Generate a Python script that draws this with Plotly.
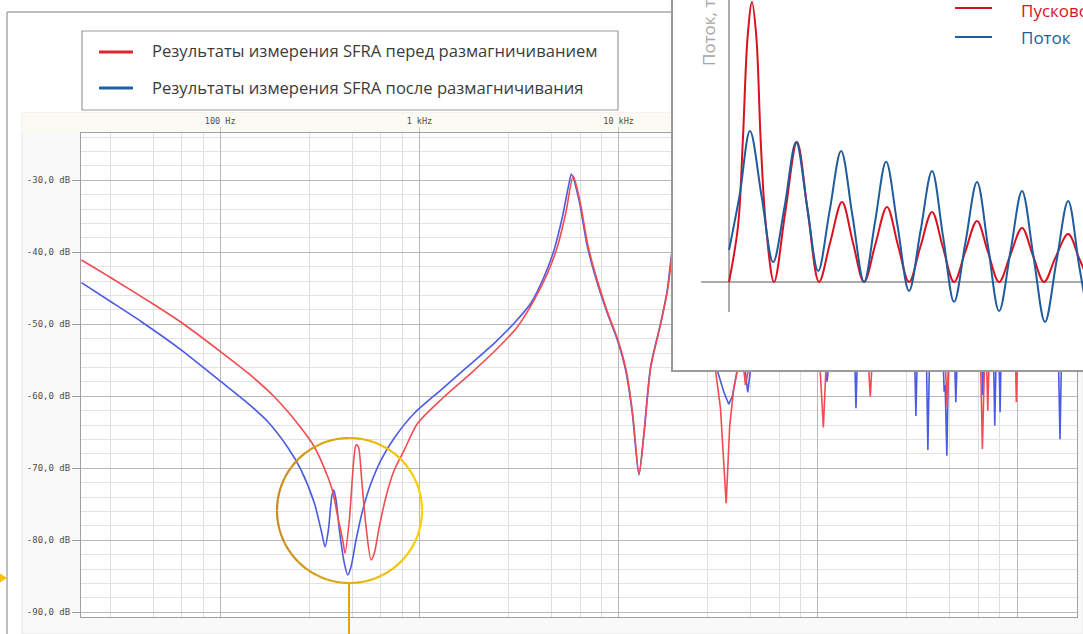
import math
import plotly.graph_objects as go

W, H = 1083, 634

# ---------------- SFRA sweep: before demagnetisation ----------------
before_freq_hz = [
    20.1, 28.4, 46.9, 63.8, 101, 137.7, 187.2, 254.7,
    297, 346.6, 367.2, 389, 412, 423.2, 444.7, 468,
    480.5, 493.4, 513.2, 539.4, 571.4, 593.5, 628.8, 679.3,
    747.6, 839, 979.5, 1331, 1812, 2466, 3106, 3762,
    4391, 4928, 5424, 5914, 6376, 7033, 7893, 8838,
    9920, 10904, 11755, 12670, 13423, 14520, 16293, 17606,
    18650, 21420, 25760, 28920, 30640, 32460, 34660, 36130,
    37840, 39490, 41110, 43300, 45350, 51500, 72800, 102100,
    106600, 110300, 122400, 179100, 183300, 187600, 230900, 435700,
    445800, 456100, 548700, 656200, 670000, 687200, 703200, 713000,
    724000, 870800, 983000, 992000, 1005800, 1304000, 1999000,
]
before_db = [
    -41.07, -43.57, -47.32, -49.75, -53.85, -56.76, -60.10, -64.40,
    -67.04, -71.17, -73.25, -76.72, -79.96, -81.80, -77.18, -68.85,
    -66.76, -67.00, -71.63, -78.11, -82.74, -81.80, -78.11, -73.94,
    -70.24, -67.46, -63.75, -60.06, -56.81, -53.33, -50.33, -46.63,
    -42.92, -39.22, -34.58, -29.40, -32.74, -39.22, -44.31, -48.47,
    -52.18, -56.35, -62.36, -70.79, -65.14, -55.89, -49.86, -45.24,
    -39.68, -32.30, -47.30, -52.90, -56.35, -61.67, -74.86, -63.99,
    -58.89, -56.35, -52.50, -58.43, -55.65, -49.40, -46.60, -55.00,
    -64.33, -55.00, -48.00, -55.00, -60.06, -55.00, -49.40, -55.00,
    -61.44, -55.00, -50.80, -55.00, -67.32, -55.00, -55.00, -62.00,
    -55.00, -49.40, -55.00, -60.83, -55.00, -50.80, -49.40,
]

# ---------------- SFRA sweep: after demagnetisation ----------------
after_freq_hz = [
    20.1, 28.4, 40.2, 63.8, 101, 137.7, 173.4, 218.4,
    254.7, 297, 320.8, 336, 349.1, 363, 371.5, 381.5,
    396.3, 419.8, 436.6, 453.5, 480.5, 519.2, 571.4, 641.2,
    747.6, 941.7, 1281, 1744, 2371, 2987, 3622, 4223,
    4740, 5221, 5636, 5794, 6324, 6968, 7821, 8777,
    9851, 10840, 11715, 12640, 13392, 14470, 16237, 17545,
    18587, 21420, 25760, 28920, 31240, 33710, 35720, 37270,
    39360, 41370, 43060, 44470, 45880, 54560, 80000, 107200,
    111200, 114200, 129700, 153300, 155400, 157800, 217900, 306400,
    310700, 315200, 334000, 351000, 356800, 363400, 392600, 425800,
    430700, 435700, 444300, 452500, 486100, 492900, 500300, 581400,
    667700, 673100, 679300, 762500, 773100, 784800, 798600, 812500,
    821900, 831400, 1162000, 1614000, 1643000, 1671000, 1999000,
]
after_db = [
    -44.22, -46.90, -49.64, -53.57, -57.97, -60.97, -63.53, -67.10,
    -70.24, -74.86, -78.57, -80.89, -78.57, -73.94, -73.01, -74.40,
    -78.57, -83.19, -84.82, -83.67, -79.96, -75.79, -72.08, -68.85,
    -65.80, -62.36, -59.13, -55.89, -52.64, -49.86, -47.08, -43.39,
    -39.68, -35.06, -30.42, -29.13, -32.74, -39.22, -44.31, -48.47,
    -52.18, -56.35, -62.36, -70.93, -65.14, -55.89, -49.86, -45.24,
    -39.68, -32.04, -46.63, -52.18, -56.35, -59.36, -61.11, -59.96,
    -56.35, -52.00, -56.35, -59.44, -56.35, -50.10, -47.00, -55.00,
    -57.97, -55.00, -50.80, -55.00, -61.67, -55.00, -50.10, -55.00,
    -62.74, -55.00, -52.90, -55.00, -67.46, -55.00, -52.90, -55.00,
    -59.36, -58.43, -68.25, -55.00, -55.00, -60.83, -55.00, -51.50,
    -55.00, -59.82, -55.00, -55.00, -64.08, -55.00, -54.30, -55.00,
    -62.22, -55.00, -50.80, -55.00, -65.97, -55.00, -51.50,
]

# ---------------- inset: inrush current and flux (time in ms, p.u.) ----------------
inrush_t_ms = [0, 4, 6.1, 8.3, 10.2, 12.1, 14.1, 16.4, 20, 25, 30.2, 35, 40,
               45, 50.2, 55, 60, 65, 70.2, 75, 80, 85, 90.2, 95, 100,
               105, 110.2, 115, 120, 125, 130.2, 135, 140, 145, 150.7, 155.5, 160]
inrush_pu = [0, 0.2, 0.5, 0.88, 1.0, 0.88, 0.5, 0.2, 0, 0.25, 0.5, 0.25, 0,
             0.143, 0.286, 0.143, 0, 0.134, 0.268, 0.134, 0, 0.125, 0.25, 0.125, 0,
             0.109, 0.218, 0.109, 0, 0.096, 0.193, 0.096, 0, 0.086, 0.171, 0.086, 0]

flux_t_ms = [0, 4.7, 9.3, 14.5, 19.6, 24.7, 29.8, 34.7, 39.6, 44.7, 49.8, 54.9,
             60, 64.9, 69.8, 74.9, 80, 85.1, 90.2, 95.1, 100, 105.1, 110.2, 115.1,
             120, 125.1, 130.2, 135.3, 140.4, 145.5, 150.7, 155.6, 160.6]
flux_pu = [0.114, 0.31, 0.539, 0.305, 0.071, 0.27, 0.5, 0.27, 0.039, 0.254, 0.468, 0.234,
           0.0, 0.215, 0.429, 0.2, -0.032, 0.182, 0.396, 0.163, -0.071, 0.143, 0.357, 0.127,
           -0.104, 0.11, 0.325, 0.091, -0.143, 0.073, 0.289, 0.057, -0.175]

# ---------------- axis labels and texts ----------------
y_tick_values = [-90, -80, -70, -60, -50, -40, -30]
y_tick_labels = ["-90,0 dB", "-80,0 dB", "-70,0 dB", "-60,0 dB", "-50,0 dB", "-40,0 dB", "-30,0 dB"]
x_tick_values = [100, 1000, 10000, 100000, 1000000]
x_tick_labels = ["100 Hz", "1 kHz", "10 kHz", "100 kHz", "1 MHz"]

legend_labels = ["Результаты измерения SFRA перед размагничиванием",
                 "Результаты измерения SFRA после размагничивания"]
inset_labels = ["Пусковой ток", "Поток"]
inset_y_title = "Поток, ток"

# colours
RED = "#f24c50"
BLUE = "#4b5be3"
LEG_RED = "#e3262d"
LEG_BLUE = "#2160a8"
INSET_RED = "#d8121f"
INSET_BLUE = "#1f5c9e"


def px(x):
    return x / W


def py(y):
    return 1 - y / H


# grid helpers: minor lines split every decade into five linear steps
x_minor = [d * m for d in [10, 100, 1000, 10000, 100000, 1000000]
           for m in (2.8, 4.6, 6.4, 8.2) if 20 <= d * m <= 2e6]
y_minor = [v for v in range(-90, -22, 2) if v % 10 != 0]

# the smooth low/mid-frequency part is drawn with a spline, the spiky
# high-frequency part with straight segments (split at ~18.6 kHz)
SPLIT_HZ = 18600


def split(freq, vals):
    k = next(i for i, f in enumerate(freq) if f >= SPLIT_HZ)
    return (freq[:k + 1], vals[:k + 1]), (freq[k:], vals[k:])


fig = go.Figure()

for freq, vals, col in ((after_freq_hz, after_db, BLUE), (before_freq_hz, before_db, RED)):
    (f1, v1), (f2, v2) = split(freq, vals)
    fig.add_trace(go.Scatter(x=f1, y=v1, mode="lines",
                             line=dict(color=col, width=1.6, shape="spline", smoothing=0.7),
                             xaxis="x", yaxis="y", hoverinfo="skip"))
    fig.add_trace(go.Scatter(x=f2, y=v2, mode="lines",
                             line=dict(color=col, width=1.6),
                             xaxis="x", yaxis="y", hoverinfo="skip"))

fig.add_trace(go.Scatter(x=inrush_t_ms, y=inrush_pu, mode="lines",
                         line=dict(color=INSET_RED, width=2, shape="spline", smoothing=1),
                         xaxis="x2", yaxis="y2", hoverinfo="skip"))
fig.add_trace(go.Scatter(x=flux_t_ms, y=flux_pu, mode="lines",
                         line=dict(color=INSET_BLUE, width=2, shape="spline", smoothing=1),
                         xaxis="x2", yaxis="y2", hoverinfo="skip"))

mono = dict(family="DejaVu Sans Mono", size=8.5, color="#4e4e4e")

fig.update_layout(
    width=W, height=H,
    margin=dict(l=0, r=0, t=0, b=0),
    paper_bgcolor="white", plot_bgcolor="white",
    showlegend=False,
    xaxis=dict(
        type="log", domain=[px(81), px(1077)],
        range=[math.log10(20), math.log10(2e6)],
        side="top", anchor="y",
        tickmode="array", tickvals=x_tick_values, ticktext=x_tick_labels,
        ticks="outside", ticklen=5, tickcolor="#c8c8c8", tickfont=mono,
        showgrid=True, gridcolor="#b8b8b8", gridwidth=1,
        minor=dict(tickmode="array", tickvals=x_minor, showgrid=True,
                   gridcolor="#dedede", gridwidth=1, ticks=""),
        showline=True, linecolor="#a0a0a0", linewidth=1, mirror=True,
        zeroline=False,
    ),
    yaxis=dict(
        domain=[py(617), py(133)], range=[-90.65, -23.43], anchor="x",
        tickmode="array", tickvals=y_tick_values, ticktext=y_tick_labels,
        ticks="outside", ticklen=8, tickcolor="#9a9a9a", tickfont=dict(mono, size=9),
        showgrid=True, gridcolor="#b8b8b8", gridwidth=1,
        minor=dict(tickmode="array", tickvals=y_minor, showgrid=True,
                   gridcolor="#e2e2e2", gridwidth=1, ticks=""),
        showline=True, linecolor="#a0a0a0", linewidth=1, mirror=True,
        zeroline=False,
    ),
    xaxis2=dict(
        domain=[px(673), 1], range=[-24.9, 157.3], anchor="y2",
        showgrid=False, zeroline=False, showticklabels=False, ticks="",
        showline=True, linecolor="#9a9a9a", linewidth=1.5,
    ),
    yaxis2=dict(
        domain=[py(370), 1], range=[-0.3143, 1.0071], anchor="x2",
        showgrid=False, zeroline=False, showticklabels=False, ticks="",
        showline=True, linecolor="#9a9a9a", linewidth=1.5,
    ),
)

shapes = []


def rect(x0, y0, x1, y1, fill, line="rgba(0,0,0,0)", lw=0, layer="below"):
    shapes.append(dict(type="rect", xref="paper", yref="paper",
                       x0=px(x0), x1=px(x1), y0=py(y1), y1=py(y0),
                       fillcolor=fill, line=dict(color=line, width=lw), layer=layer))


def seg(x0, y0, x1, y1, color, lw, layer="below"):
    shapes.append(dict(type="line", xref="paper", yref="paper",
                       x0=px(x0), x1=px(x1), y0=py(y0), y1=py(y1),
                       line=dict(color=color, width=lw), layer=layer))


# chart panel, title strip and white plotting area
rect(22, 113, 1083, 634, "#f9f9f9", "#e6e6e6", 1)
rect(22, 113, 1083, 133, "#fbfbf3")
rect(81, 133, 1077, 617, "white")
# outer frame
seg(7, 12, 7, 634, "#a8a8a8", 1.5)
seg(7, 12, 673, 12, "#a8a8a8", 1.5)

# legend box of the main chart
rect(82, 31, 618, 110, "white", "#9c9c9c", 1.2, layer="above")
seg(99, 52, 133, 52, LEG_RED, 3, layer="above")
seg(99, 88, 133, 88, LEG_BLUE, 3, layer="above")

# inset legend markers
seg(955, 8, 992, 8, INSET_RED, 2, layer="above")
seg(955, 37, 992, 37, INSET_BLUE, 2, layer="above")

# inset axes (time axis and vertical axis)
shapes.append(dict(type="line", xref="x2", yref="y2", x0=0, x1=0, y0=-0.107, y1=1.0071,
                   line=dict(color="#8f8f8f", width=1.5), layer="below"))
shapes.append(dict(type="line", xref="x2", yref="y2", x0=-12.4, x1=157.3, y0=0, y1=0,
                   line=dict(color="#8f8f8f", width=1.5), layer="below"))

# highlight circle with a left-to-right orange-to-yellow gradient
cx, cy, r = 349.5, 510.5, 72.5
c_left = (201, 138, 30)
c_right = (249, 210, 0)
n_seg = 40
for k in range(n_seg):
    a0 = 2 * math.pi * k / n_seg
    a1 = 2 * math.pi * (k + 1) / n_seg
    am = (a0 + a1) / 2
    t = (1 + math.cos(am)) / 2
    col = tuple(round(c_left[i] + (c_right[i] - c_left[i]) * t) for i in range(3))
    pts = []
    for j in range(6):
        a = a0 + (a1 - a0) * j / 5
        pts.append((px(cx + r * math.cos(a)), py(cy + r * math.sin(a))))
    path = "M " + " L ".join(f"{x:.5f},{y:.5f}" for x, y in pts)
    shapes.append(dict(type="path", xref="paper", yref="paper", path=path,
                       line=dict(color=f"rgb{col}", width=2.2), layer="above"))

seg(349, 583, 349, 634, "#e3a600", 2, layer="above")
# pointer at the left margin
shapes.append(dict(type="path", xref="paper", yref="paper",
                   path=f"M {px(0)},{py(573.5)} L {px(7)},{py(578)} L {px(0)},{py(582.5)} Z",
                   fillcolor="#f6c200", line=dict(width=0), layer="above"))

fig.update_layout(shapes=shapes)

text_font = "Open Sans"
annotations = [
    dict(x=px(150), y=py(51), text=legend_labels[0], xanchor="left", yanchor="middle",
         font=dict(family=text_font, size=16.6, color="#3c3c3c")),
    dict(x=px(150), y=py(87), text=legend_labels[1], xanchor="left", yanchor="middle",
         font=dict(family=text_font, size=16.6, color="#3c3c3c")),
    dict(x=px(1019), y=py(10), text=inset_labels[0], xanchor="left", yanchor="middle",
         font=dict(family=text_font, size=17, color=INSET_RED)),
    dict(x=px(1019), y=py(38), text=inset_labels[1], xanchor="left", yanchor="middle",
         font=dict(family=text_font, size=17, color=INSET_BLUE)),
    dict(x=px(708), y=py(68), text=inset_y_title, textangle=-90,
         xanchor="center", yanchor="bottom",
         font=dict(family=text_font, size=17, color="#a6a6a6")),
]
for a in annotations:
    a.update(xref="paper", yref="paper", showarrow=False)
fig.update_layout(annotations=annotations)

fig.write_html("out.html")
